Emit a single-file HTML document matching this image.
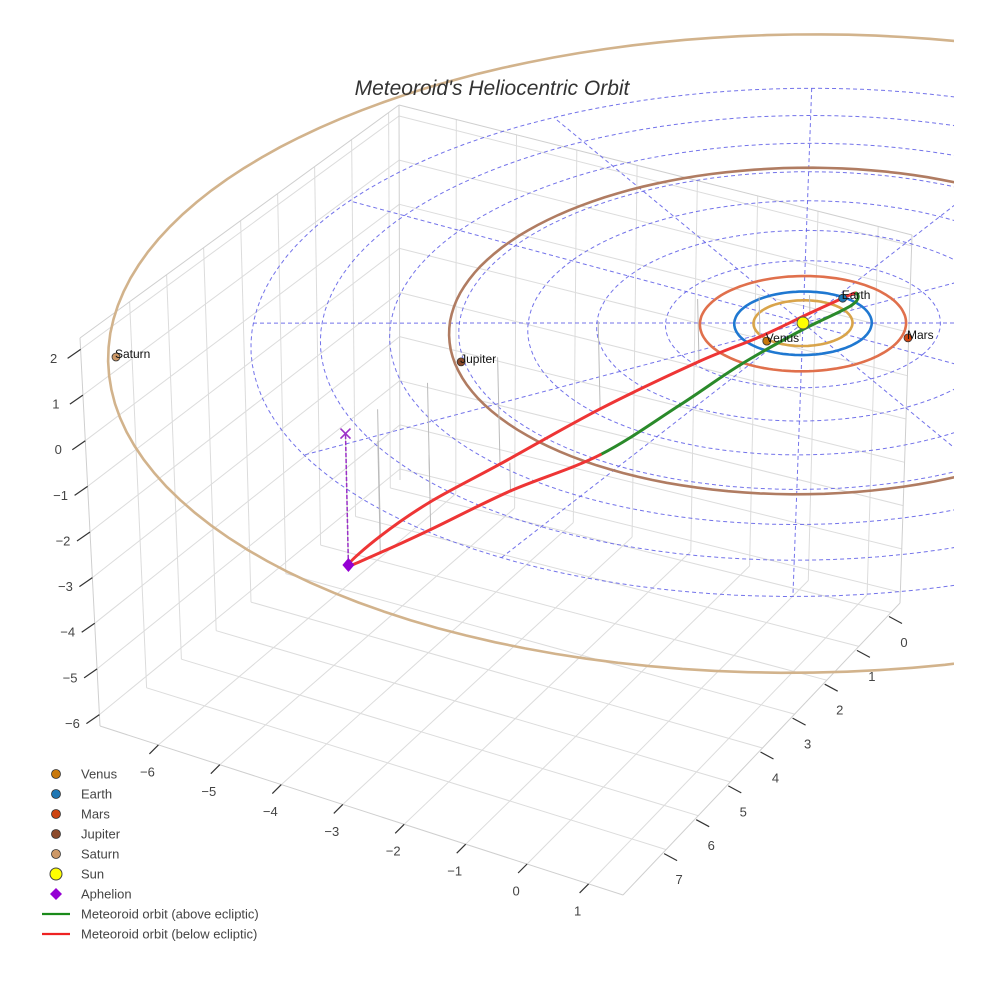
<!DOCTYPE html>
<html><head><meta charset="utf-8"><title>Meteoroid's Heliocentric Orbit</title>
<style>
html,body{margin:0;padding:0;background:#fff;}
svg{display:block;font-family:"Liberation Sans",Arial,sans-serif;}
</style></head>
<body>
<svg id="chart" width="984" height="984" viewBox="0 0 984 984" xmlns="http://www.w3.org/2000/svg">
  <defs><clipPath id="plotclip"><rect x="0" y="0" width="954" height="984"/></clipPath></defs>
  <rect x="0" y="0" width="984" height="984" fill="#fff"/>
  <g id="box"></g>
  <g id="scene" clip-path="url(#plotclip)"></g>
  <text x="492" y="95" text-anchor="middle" font-size="21" font-style="italic" fill="#333">Meteoroid's Heliocentric Orbit</text>
  <g id="legend"></g>
</svg>
<script>
// ---- axis data ----
const xTicks = [-6,-5,-4,-3,-2,-1,0,1];
const yTicks = [0,1,2,3,4,5,6,7];
const zTicks = [-6,-5,-4,-3,-2,-1,0,1,2];
const xRange = [-6.95, 1.56];
const yRange = [-0.28, 8.34];
const zRange = [-6.25, 2.25];
// ---- planets ----
const planetNames = ["Venus","Earth","Mars","Jupiter","Saturn"];
const planetX = [-0.186, 0.129, 1.569, -3.745, -8.209];
const planetY = [0.742, -0.962, -0.309, 3.381, 5.601];
const orbitRadius = [0.72, 1.0, 1.5, 5.14, 10.05];
// ---- ecliptic reference grid ----
const ringRadii = [1,2,3,4,5,6,7,8];
const spokeAngles = [-28.2,1.8,31.8,61.8,91.8,121.8,151.8,181.8,211.8,241.8,271.8,301.8];
const spokeLength = 8;
// ---- meteoroid orbit samples (AU) ----
const orbX = [-4.043,-4.033,-3.830,-3.358,-2.656,-1.733,-0.977,-0.345,0.059,0.267,0.423,0.169,-0.091,-0.270,-0.557,-1.552,-2.674,-3.524];
const orbY = [5.991,5.164,4.155,3.010,1.360,0.064,-0.430,-0.815,-1.085,-1.134,-0.709,0.388,1.688,3.095,4.830,5.632,5.965,5.960];
const orbZ = [-2.83,-2.75,-2.6,-2.35,-1.95,-1.4,-0.9,-0.4,-0.1,0.05,0.1,0.12,0.1,0.06,0,-0.6,-1.6,-2.4];
const aphelion = [-4.043, 5.991, -2.83];

const orbitColors = ["#d9a44a","#1f78d1","#e0704c","#b07c62","#d2b38c"];
const markerColors = ["#c8780c","#1f77b4","#cc4411","#8b4a2b","#cd9866"];

const NS = "http://www.w3.org/2000/svg";
function mk(tag, attrs, parent){const e=document.createElementNS(NS,tag);for(const k in attrs)e.setAttribute(k,attrs[k]);parent.appendChild(e);return e;}

// data projection (heliocentric coordinates, mild perspective by depth)
function P(x,y,z){
  const f = 1 + 0.0003*(15*x+28*y);
  return [803+f*(60*x-33.5*y-1*z), 323+f*(15*x+28*y-45*z)];
}
// box projection (trilinear over measured corners)
const C = {c000:[400,480],c100:[900,603],c010:[100,726],c110:[623,895],c001:[399,105],c101:[912,235],c011:[80,338],c111:[612,495]};
function lerp(a,b,t){return [a[0]+(b[0]-a[0])*t,a[1]+(b[1]-a[1])*t];}
function B(x,y,z){
  const u=(x-xRange[0])/(xRange[1]-xRange[0]);
  const v=(y-yRange[0])/(yRange[1]-yRange[0]);
  const w=(z-zRange[0])/(zRange[1]-zRange[0]);
  const b0=lerp(lerp(C.c000,C.c100,u),lerp(C.c010,C.c110,u),v);
  const b1=lerp(lerp(C.c001,C.c101,u),lerp(C.c011,C.c111,u),v);
  return lerp(b0,b1,w);
}
const box=document.getElementById('box');
function bline(a,b,stroke,name,w){
  const l=mk('line',{x1:a[0].toFixed(1),y1:a[1].toFixed(1),x2:b[0].toFixed(1),y2:b[1].toFixed(1),stroke:stroke,'stroke-width':w||1},box);
  
  
}
const X0=xRange[0],X1=xRange[1],Y0=yRange[0],Y1=yRange[1],Z0=zRange[0],Z1=zRange[1];
const gc="#dcdcdc";
xTicks.forEach(t=>{bline(B(t,Y0,Z0),B(t,Y1,Z0),gc,'floor-gridline-x');bline(B(t,Y0,Z0),B(t,Y0,Z1),gc,'backwall-gridline-x');});
yTicks.forEach(t=>{bline(B(X0,t,Z0),B(X1,t,Z0),gc,'floor-gridline-y');bline(B(X0,t,Z0),B(X0,t,Z1),gc,'sidewall-gridline-y');});
zTicks.forEach(t=>{bline(B(X0,Y0,t),B(X1,Y0,t),gc,'backwall-gridline-z');bline(B(X0,Y0,t),B(X0,Y1,t),gc,'sidewall-gridline-z');});
const ec="#cfcfcf";
[[B(X0,Y1,Z0),B(X1,Y1,Z0)],[B(X1,Y1,Z0),B(X1,Y0,Z0)],[B(X0,Y1,Z0),B(X0,Y1,Z1)],[B(X1,Y0,Z0),B(X1,Y0,Z1)],
 [B(X0,Y0,Z1),B(X1,Y0,Z1)],[B(X0,Y0,Z1),B(X0,Y1,Z1)],[B(X0,Y0,Z0),B(X0,Y0,Z1)]].forEach(p=>bline(p[0],p[1],ec,'box-edge'));
// ticks + labels
function tlabel(p,txt,name){
  const t=mk('text',{x:p[0].toFixed(1),y:p[1].toFixed(1),'text-anchor':'middle','font-size':13,fill:'#444','dominant-baseline':'middle'},box);
  t.textContent=txt;
  
  
}
function fmt(v){return v<0?'\u2212'+Math.abs(v):String(v);}
xTicks.forEach(t=>{const p=B(t,Y1,Z0);bline(p,[p[0]-9,p[1]+9],'#333','x-tick-mark',1.2);tlabel([p[0]-11,p[1]+28],fmt(t),'x-tick-label');});
yTicks.forEach(t=>{const p=B(X1,t,Z0);bline([p[0]-2,p[1]+4],[p[0]+11,p[1]+11],'#333','y-tick-mark',1.2);tlabel([p[0]+13,p[1]+31],fmt(t),'y-tick-label');});
zTicks.forEach(t=>{const p=B(X0,Y1,t);bline(p,[p[0]-13,p[1]+9],'#333','z-tick-mark',1.2);tlabel([p[0]-27,p[1]+10],fmt(t),'z-tick-label');});

// ---- scene ----
const scene=document.getElementById('scene');
function polyPts(pts){return pts.map(p=>p[0].toFixed(1)+','+p[1].toFixed(1)).join(' ');}
function circlePts(r){const a=[];for(let i=0;i<=144;i++){const th=i/144*2*Math.PI;a.push(P(r*Math.cos(th),r*Math.sin(th),0));}return a;}
ringRadii.forEach(r=>{
  const e=mk('polyline',{points:polyPts(circlePts(r)),fill:'none',stroke:'#5a5ae6','stroke-width':1,'stroke-dasharray':'4,3','stroke-opacity':0.85},scene);
  
  
});
spokeAngles.forEach(a=>{
  const th=a*Math.PI/180;const p0=P(0,0,0),p1=P(spokeLength*Math.cos(th),spokeLength*Math.sin(th),0);
  const e=mk('line',{x1:p0[0],y1:p0[1],x2:p1[0].toFixed(1),y2:p1[1].toFixed(1),stroke:'#5a5ae6','stroke-width':1,'stroke-dasharray':'4,3','stroke-opacity':0.85},scene);
  
  
});
orbitRadius.forEach((r,i)=>{
  const e=mk('polyline',{points:polyPts(circlePts(r)),fill:'none',stroke:orbitColors[i],'stroke-width':2.6},scene);
  
  
});
// drop lines
orbX.forEach((x,i)=>{
  const a=P(x,orbY[i],orbZ[i]),b=P(x,orbY[i],0);
  const e=mk('line',{x1:a[0].toFixed(1),y1:a[1].toFixed(1),x2:b[0].toFixed(1),y2:b[1].toFixed(1),stroke:'#bbb','stroke-width':1},scene);
  
  
});
// meteoroid orbit (closed loop, catmull-rom)
const n=orbX.length;
const sp=orbX.map((x,i)=>P(x,orbY[i],orbZ[i]));
for(let i=0;i<n;i++){
  const p0=sp[(i-1+n)%n],p1=sp[i],p2=sp[(i+1)%n],p3=sp[(i+2)%n];
  const c1=[p1[0]+(p2[0]-p0[0])/6,p1[1]+(p2[1]-p0[1])/6],c2=[p2[0]-(p3[0]-p1[0])/6,p2[1]-(p3[1]-p1[1])/6];
  const za=orbZ[i],zb=orbZ[(i+1)%n];
  const above=za>=0&&zb>=0&&(za>0||zb>0);
  const e=mk('path',{d:`M${p1[0].toFixed(1)},${p1[1].toFixed(1)} C${c1[0].toFixed(1)},${c1[1].toFixed(1)} ${c2[0].toFixed(1)},${c2[1].toFixed(1)} ${p2[0].toFixed(1)},${p2[1].toFixed(1)}`,fill:'none',stroke:above?'#2a8a2a':'#ee3535','stroke-width':3,'stroke-linecap':'round'},scene);
  
  
}
// aphelion
const ap=P(aphelion[0],aphelion[1],aphelion[2]),ape=P(aphelion[0],aphelion[1],0);
let e=mk('line',{x1:ap[0].toFixed(1),y1:ap[1].toFixed(1),x2:ape[0].toFixed(1),y2:ape[1].toFixed(1),stroke:'#9b30c8','stroke-width':1.5,'stroke-dasharray':'4,2'},scene);


e=mk('path',{d:`M${ape[0]-5},${ape[1]-5}L${ape[0]+5},${ape[1]+5}M${ape[0]+5},${ape[1]-5}L${ape[0]-5},${ape[1]+5}`,stroke:'#9b30c8','stroke-width':1.6,fill:'none'},scene);


e=mk('path',{d:`M${ap[0]},${ap[1]-7}L${ap[0]+6},${ap[1]}L${ap[0]},${ap[1]+7}L${ap[0]-6},${ap[1]}Z`,fill:'#9400d3'},scene);


// sun
const s=P(0,0,0);
e=mk('circle',{cx:s[0],cy:s[1],r:6,fill:'#ffff00',stroke:'#555','stroke-width':1},scene);


// planets
planetNames.forEach((nm,i)=>{
  const p=P(planetX[i],planetY[i],0);
  const c=mk('circle',{cx:p[0].toFixed(1),cy:p[1].toFixed(1),r:4,fill:markerColors[i],stroke:'#333','stroke-width':0.8},scene);
  
  
  const t=mk('text',{x:(p[0]-1).toFixed(1),y:(p[1]+1).toFixed(1),'font-size':12,fill:'#111'},scene);
  t.textContent=nm;
  
  
});

// ---- legend ----
const lg=document.getElementById('legend');
const legendItems=[
 ["Venus","dot",markerColors[0]],["Earth","dot",markerColors[1]],["Mars","dot",markerColors[2]],
 ["Jupiter","dot",markerColors[3]],["Saturn","dot",markerColors[4]],["Sun","sun","#ffff00"],
 ["Aphelion","diamond","#9400d3"],["Meteoroid orbit (above ecliptic)","line","#1a8a1a"],["Meteoroid orbit (below ecliptic)","line","#ee2222"]];
legendItems.forEach((it,i)=>{
  const y=774+i*20;
  const g=mk('g',{},lg);
  
  
  if(it[1]==='dot') mk('circle',{cx:56,cy:y,r:4.5,fill:it[2],stroke:'#333','stroke-width':0.8},g);
  else if(it[1]==='sun') mk('circle',{cx:56,cy:y,r:6,fill:it[2],stroke:'#444','stroke-width':1},g);
  else if(it[1]==='diamond') mk('path',{d:`M56,${y-6}L62,${y}L56,${y+6}L50,${y}Z`,fill:it[2]},g);
  else mk('line',{x1:42,y1:y,x2:70,y2:y,stroke:it[2],'stroke-width':2.2},g);
  const t=mk('text',{x:81,y:y+4.5,'font-size':13,fill:'#444'},g);
  t.textContent=it[0];
});
</script>
</body></html>
